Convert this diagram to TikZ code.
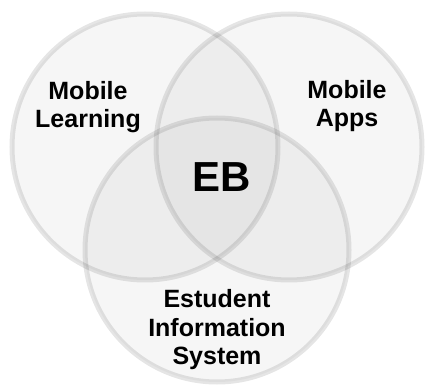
\documentclass[tikz,border=0pt]{standalone}
\usepackage{fontspec}
\setmainfont{Liberation Sans}
\usepackage{tikz}

\begin{document}
\begin{tikzpicture}[x=1pt, y=1pt,
    venn/.style={circle, draw=black, draw opacity=0.1, fill=black, fill opacity=0.035, line width=5pt, inner sep=0pt, minimum size=266pt},
    label/.style={align=center, font=\fontsize{25}{28.5}\selectfont\bfseries}]
    \useasboundingbox (0, 0) rectangle (426, 386);
    \node[venn] (learning) at (145, 239) {};
    \node[venn] (apps) at (289, 239) {};
    \node[venn, minimum size=264pt] (system) at (217, 136) {};
    \node[label] (learningtext) at (88, 279) {Mobile\\Learning};
    \node[label] (appstext) at (347, 280) {Mobile\\Apps};
    \node[label, font=\fontsize{42}{46}\selectfont\bfseries] (eb) at (222, 209) {EB};
    \node[label] (systemtext) at (217, 56) {Estudent\\Information\\System};
  \end{tikzpicture}
\end{document}
